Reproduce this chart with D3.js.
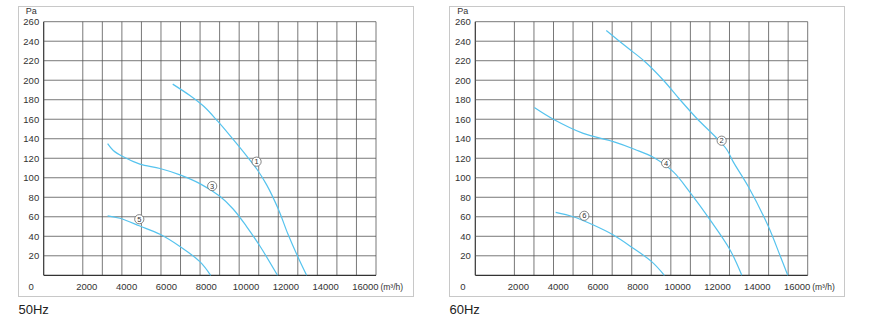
<!DOCTYPE html>
<html><head><meta charset="utf-8">
<script src="https://cdn.jsdelivr.net/npm/d3@7/dist/d3.min.js"></script>
<style>
body{margin:0;background:#fff;}
svg{display:block;font-family:"Liberation Sans",Arial,sans-serif;}
</style></head>
<body>
<svg id="c" width="892" height="325"></svg>
<script>
// ---- data ----
const xGridValues = [0,2000,3000,4000,5000,6000,7000,8000,9000,10000,11000,12000,13000,14000,15000,16000,17000];
const xTickLabels = [2000,4000,6000,8000,10000,12000,14000,16000];
const yTickValues = [20,40,60,80,100,120,140,160,180,200,220,240,260];
const yGridValues = [0,20,40,60,80,100,120,140,160,180,200,220,240,260];

const curve1 = [[6600,196],[7500,184],[8200,173],[8900,158],[9500,144],[10400,122],[10900,109],[11400,93],[12000,68],[12500,42],[13000,19],[13450,0]];
const curve3 = [[3270,135],[3560,128],[4070,121.5],[4920,114],[5950,109.5],[6970,103],[7990,94],[9010,81],[9690,68],[10380,50],[11060,30],[11960,0]];
const curve5 = [[3270,61],[3900,58.5],[4920,50.5],[5950,42],[6970,29.5],[7990,14],[8540,0]];
const curve2 = [[6700,251],[7740,234],[8680,219],[9620,200],[10470,180],[11320,161],[12350,140.5],[12860,129],[13200,116],[13960,91],[14990,50],[15590,20],[15980,0]];
const curve4 = [[3020,172],[3990,160],[5520,145.5],[7060,137],[8170,129],[9100,121],[10130,106],[10980,85],[12000,57],[13030,26],[13630,0]];
const curve6 = [[4110,64.5],[5010,60],[6040,51.5],[7060,41.3],[8080,27.7],[9020,14],[9670,0]];

const panels = [
  {title:"50Hz", series:[curve1,curve3,curve5], labels:[{t:"1",x:10890,y:116.5},{t:"3",x:8620,y:91.5},{t:"5",x:4890,y:57.5}]},
  {title:"60Hz", series:[curve2,curve4,curve6], labels:[{t:"2",x:12600,y:138},{t:"4",x:9760,y:115},{t:"6",x:5575,y:61}]}
];

// ---- layout ----
const svg = d3.select("#c");
const layout = [
  {fx:18.5, fw:395, pl:43.7, pr:376},
  {fx:449.5, fw:395, pl:475.3, pr:807.7}
];
const plotTop = 21.7, plotBottom = 275.3;
const color = "#55c3ee";

panels.forEach((p,i)=>{
  const L = layout[i];
  const g = svg.append("g");
  g.append("rect").attr("x",L.fx).attr("y",6.5).attr("width",L.fw).attr("height",290)
    .attr("fill","none").attr("stroke","#c8c8c8").attr("stroke-width",1);

  const x = d3.scaleLinear().domain([0,17000]).range([L.pl,L.pr]);
  const y = d3.scaleLinear().domain([0,260]).range([plotBottom,plotTop]);

  // grid
  g.append("g").selectAll("line").data(xGridValues).join("line")
    .attr("x1",d=>x(d)).attr("x2",d=>x(d)).attr("y1",y(0)).attr("y2",y(260))
    .attr("stroke",d=>d===0?"#333":"#555").attr("stroke-width",d=>d===0?1.2:0.8);
  g.append("g").selectAll("line").data(yGridValues).join("line")
    .attr("x1",x(0)).attr("x2",x(17000)).attr("y1",d=>y(d)).attr("y2",d=>y(d))
    .attr("stroke",d=>d===0?"#333":"#555").attr("stroke-width",d=>d===0?1.2:0.8);

  // y labels
  g.append("g").selectAll("text").data(yTickValues).join("text")
    .attr("x",x(0)-4.5).attr("y",d=>y(d)).attr("dy","0.35em")
    .attr("text-anchor","end").attr("font-size",9.5).attr("fill","#333").text(d=>d);
  g.append("text").attr("x",x(0)-18).attr("y",14).attr("font-size",9).attr("fill","#333").text("Pa");

  // x labels
  const lblY = 287;
  g.append("text").attr("x",x(0)-12.5).attr("y",lblY).attr("dy","0.35em").attr("text-anchor","middle")
    .attr("font-size",9.5).attr("fill","#333").text("0");
  g.append("g").selectAll("text").data(xTickLabels).join("text")
    .attr("x",d=>x(d)+4+(d-2000)/14000*5).attr("y",lblY).attr("dy","0.35em").attr("text-anchor","middle")
    .attr("font-size",9.5).attr("fill","#333").text(d=>d);
  g.append("text").attr("x",x(16000)+24).attr("y",lblY).attr("dy","0.35em").attr("text-anchor","start")
    .attr("font-size",8.5).attr("fill","#333").text("(m³/h)");

  // title
  g.append("text").attr("x",L.fx).attr("y",314).attr("font-size",13).attr("fill","#222").text(p.title);

  // curves
  const line = d3.line().x(d=>x(d[0])).y(d=>y(d[1])).curve(d3.curveCatmullRom.alpha(0.5));
  p.series.forEach(s=>{
    g.append("path").attr("d",line(s)).attr("fill","none").attr("stroke",color).attr("stroke-width",1.2);
  });

  // circled labels
  p.labels.forEach(l=>{
    g.append("circle").attr("cx",x(l.x)).attr("cy",y(l.y)).attr("r",4.6)
      .attr("fill","#fff").attr("stroke","#666").attr("stroke-width",0.8);
    g.append("text").attr("x",x(l.x)).attr("y",y(l.y)).attr("dy","0.35em").attr("text-anchor","middle")
      .attr("font-size",7.5).attr("fill","#333").text(l.t);
  });
});
</script>
</body></html>
